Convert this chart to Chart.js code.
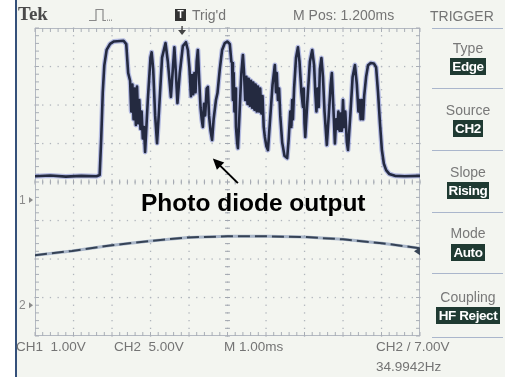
<!DOCTYPE html>
<html>
<head>
<meta charset="utf-8">
<script src="https://cdn.jsdelivr.net/npm/chart.js@4.4.1/dist/chart.umd.min.js"></script>
<style>
  html, body { margin: 0; padding: 0; background: #fff; }
  #wrap { position: relative; width: 505px; height: 377px; background: #f3f5f0; overflow: hidden; }
  #scope { position: absolute; left: 0; top: 0; }
  .t { position: absolute; font-family: "Liberation Sans", Arial, sans-serif; color: #747474; white-space: nowrap; line-height: 1; font-size: 14px; }
  .menu { position: absolute; left: 430px; width: 76px; text-align: center; font-family: "Liberation Sans", Arial, sans-serif; color: #787878; font-size: 14px; line-height: 1; }
  .box { display: inline-block; background: #1f3a32; color: #fff; font-weight: bold; font-size: 13.5px; padding: 2px 2px 1px 2px; letter-spacing: -0.4px; }
  .sep { position: absolute; left: 432px; width: 71px; height: 1px; background: #aab6cc; }
</style>
</head>
<body>
<div id="wrap">
  <div style="position:absolute;left:0;top:0;width:15px;height:377px;background:#fff"></div>
  <div style="position:absolute;left:15px;top:0;width:2px;height:377px;background:#34507a"></div>
  <canvas id="scope" width="505" height="377"></canvas>

  <div class="t" style="left:18px;top:4px;font-family:'Liberation Serif','DejaVu Serif',serif;font-weight:bold;font-size:19px;color:#4a4a4a">Tek</div>
  <div class="t" style="left:175px;top:9px;width:11px;height:12px;background:#333;color:#fff;font-weight:bold;font-size:10px;text-align:center;line-height:12px">T</div>
  <div class="t" style="left:192px;top:8px">Trig'd</div>
  <div class="t" style="left:293px;top:8px">M Pos: 1.200ms</div>
  <div class="t" style="left:430px;top:9px">TRIGGER</div>
  <div class="sep" style="top:28px"></div>

  <div class="menu" style="top:41px">Type</div>
  <div class="menu" style="top:58px"><span class="box">Edge</span></div>
  <div class="sep" style="top:88px"></div>
  <div class="menu" style="top:103px">Source</div>
  <div class="menu" style="top:120px"><span class="box">CH2</span></div>
  <div class="sep" style="top:150px"></div>
  <div class="menu" style="top:165px">Slope</div>
  <div class="menu" style="top:182px"><span class="box">Rising</span></div>
  <div class="sep" style="top:212px"></div>
  <div class="menu" style="top:226px">Mode</div>
  <div class="menu" style="top:244px"><span class="box">Auto</span></div>
  <div class="sep" style="top:273px"></div>
  <div class="menu" style="top:290px">Coupling</div>
  <div class="menu" style="top:307px"><span class="box" style="padding:2px 3px 1px 3px">HF Reject</span></div>
  <div class="sep" style="top:337px"></div>

  <div class="t" style="left:19px;top:194px;font-size:12px;color:#8a8a8a">1</div>
  <div class="t" style="left:19px;top:299px;font-size:12px;color:#8a8a8a">2</div>

  <div class="t" style="left:16px;top:340px;font-size:13.5px">CH1&nbsp; 1.00V</div>
  <div class="t" style="left:114px;top:340px;font-size:13.5px">CH2&nbsp; 5.00V</div>
  <div class="t" style="left:224px;top:340px;font-size:13.5px">M 1.00ms</div>
  <div class="t" style="left:376px;top:340px;font-size:13.5px">CH2 / 7.00V</div>
  <div class="t" style="left:376px;top:360px;font-size:13.5px">34.9942Hz</div>

  <div class="t" style="left:141px;top:191px;font-weight:bold;font-size:24.5px;color:#000">Photo diode output</div>
</div>

<script>
// CH1 - photo diode output (ms, volts)
const ch1Ms = [
  0.00, 0.40, 0.80, 1.20, 1.60, 1.68, 1.72, 1.76, 1.80, 1.86, 1.95, 2.05, 2.30, 2.37, 2.42,
  2.47, 2.50, 2.53, 2.56, 2.59, 2.62, 2.65, 2.68, 2.71, 2.74, 2.77, 2.80, 2.83, 2.86,
  2.93, 3.00, 3.03, 3.07, 3.12, 3.17, 3.22, 3.30, 3.39, 3.45, 3.53, 3.58, 3.62, 3.66,
  3.70, 3.76, 3.84, 3.92, 3.97, 4.01,
  4.05, 4.08, 4.11, 4.14, 4.17, 4.20, 4.23, 4.27, 4.30, 4.33, 4.36, 4.39, 4.42, 4.46,
  4.49, 4.52, 4.56, 4.60, 4.64, 4.70, 4.74, 4.80, 4.86, 4.93, 5.00, 5.06, 5.10,
  5.12, 5.14, 5.16, 5.18, 5.20, 5.22, 5.25, 5.27, 5.31, 5.36, 5.40, 5.43,
  5.46, 5.49, 5.52, 5.55, 5.58, 5.61, 5.64, 5.67, 5.70, 5.73, 5.76, 5.79, 5.82, 5.85,
  5.88, 5.91, 5.94, 5.97, 6.01, 6.05, 6.10, 6.17, 6.23, 6.26, 6.28, 6.31, 6.34, 6.37,
  6.42, 6.48, 6.55, 6.59, 6.63, 6.66, 6.68, 6.70, 6.73, 6.78, 6.83, 6.87, 6.92,
  6.96, 6.98, 7.00, 7.02, 7.07, 7.14, 7.20, 7.25, 7.28, 7.31, 7.34, 7.37, 7.40, 7.44,
  7.48, 7.52, 7.58, 7.63, 7.68, 7.71, 7.75, 7.79,
  7.82, 7.85, 7.88, 7.91, 7.94, 7.97, 8.00, 8.03, 8.06, 8.10, 8.13, 8.19, 8.25, 8.31,
  8.36, 8.40, 8.43, 8.46, 8.49, 8.52, 8.55, 8.60, 8.65, 8.72, 8.80, 8.86, 8.91, 8.96,
  9.01, 9.06, 9.12, 9.20, 9.35, 9.60, 10.00
];
const ch1Volts = [
  0.62, 0.64, 0.61, 0.63, 0.62, 0.65, 1.60, 2.80, 3.50, 3.90, 4.06, 4.12, 4.14, 4.05, 3.30,
  3.10, 2.30, 3.00, 2.10, 2.90, 1.95, 2.95, 2.00, 2.60, 1.85, 2.30, 1.60, 1.90, 1.25,
  2.60, 3.70, 3.84, 3.40, 2.20, 1.48, 2.30, 3.70, 4.08, 3.60, 2.68, 3.40, 3.97, 3.30,
  2.52, 3.30, 4.00, 4.10, 3.90, 3.45,
  2.70, 3.25, 2.75, 3.30, 2.80, 3.60, 3.90, 3.00, 2.40, 2.10, 1.90, 2.50, 2.20, 2.90,
  2.94, 2.20, 1.80, 1.56, 2.10, 2.60, 2.78, 3.40, 3.90, 4.08, 4.12, 4.05, 3.60,
  3.56, 2.60, 3.30, 2.30, 2.90, 1.90, 1.50, 1.35, 2.20, 3.30, 3.77, 3.30,
  2.60, 3.20, 2.50, 3.15, 2.45, 3.10, 2.40, 3.05, 2.35, 3.00, 2.30, 2.95, 2.30, 2.90,
  2.25, 2.70, 1.90, 1.64, 1.40, 1.30, 2.00, 3.00, 3.51, 2.80, 3.30, 2.60, 2.90, 2.20,
  1.50, 1.15, 1.09, 1.60, 2.30, 1.90, 2.60, 2.10, 2.90, 3.70, 3.97, 3.60, 2.80,
  2.42, 2.90, 2.00, 1.64, 2.50, 3.60, 3.90, 3.50, 2.80, 2.30, 2.90, 2.42, 3.40, 3.69,
  3.20, 2.30, 1.43, 2.20, 3.00, 3.30, 2.40, 1.47,
  2.10, 1.85, 2.30, 1.80, 2.25, 1.80, 2.60, 1.90, 2.30, 1.50, 1.30, 2.20, 3.20, 3.51,
  3.00, 2.30, 2.60, 2.10, 2.60, 2.10, 2.70, 3.20, 3.50, 3.56, 3.55, 3.45, 2.80, 2.00,
  1.30, 0.95, 0.78, 0.68, 0.63, 0.62, 0.63
];

// CH2 - slow sweep (ms, volts)
const ch2Ms = [0, 0.96, 1.95, 2.99, 3.97, 5.01, 6.03, 7.01, 8.00, 9.01, 10.00];
const ch2Volts = [6.5, 7.05, 7.75, 8.35, 8.8, 8.95, 8.95, 8.85, 8.55, 8.05, 7.4];

// scope settings
const CH1_V_PER_DIV = 1.0;
const CH2_V_PER_DIV = 5.0;
const CH1_GROUND_DIV = -0.47;   // ground marker below screen centre
const CH2_GROUND_DIV = -3.2;
const TRIG_POS_MS = 3.82;
const TRIG_LEVEL_V = 7.0;
const NOTE_ARROW = { fromMs: 5.27, fromV: 0.44, toMs: 4.62, toV: 1.08 };

const ch1Points = ch1Ms.map((t, i) => ({ x: t, y: ch1Volts[i] }));
const ch2Points = ch2Ms.map((t, i) => ({ x: t, y: ch2Volts[i] }));

const scopeDeco = {
    id: 'scopeDeco',
    beforeDatasetsDraw(chart) {
        const { ctx, chartArea: a, scales } = chart;
        const dx = (a.right - a.left) / 10;
        const dy = (a.bottom - a.top) / 8;
        ctx.save();
        ctx.fillStyle = '#b0b5bc';
        // dotted graticule
        for (let i = 1; i < 10; i++) {
            const px = scales.x.getPixelForValue(i);
            for (let j = 0; j <= 40; j++) {
                ctx.fillRect(px - 0.6, a.top + j * dy / 5 - 0.6, 1.3, 1.3);
            }
        }
        for (let k = 1; k < 8; k++) {
            const py = a.top + k * dy;
            for (let j = 0; j <= 50; j++) {
                ctx.fillRect(a.left + j * dx / 5 - 0.6, py - 0.6, 1.3, 1.3);
            }
        }
        // centre lines with minor ticks
        const cx = scales.x.getPixelForValue(5);
        const cy = a.top + 4 * dy;
        ctx.fillStyle = '#a2a7b0';
        for (let j = 0; j <= 40; j++) {
            ctx.fillRect(cx - 2.5, a.top + j * dy / 5 - 0.5, 5, 1);
        }
        for (let j = 0; j <= 50; j++) {
            ctx.fillRect(a.left + j * dx / 5 - 0.5, cy - 2.5, 1, 5);
        }
        // frame ruler
        ctx.strokeStyle = '#b4b9c2';
        ctx.lineWidth = 1;
        ctx.strokeRect(a.left + 0.5, a.top + 0.5, a.right - a.left - 1, a.bottom - a.top - 1);
        ctx.fillStyle = '#a9aeb6';
        for (let j = 0; j <= 50; j++) {
            const px = a.left + j * dx / 5;
            ctx.fillRect(px - 0.5, a.top, 1, 4);
            ctx.fillRect(px - 0.5, a.bottom - 4, 1, 4);
        }
        for (let j = 0; j <= 40; j++) {
            const py = a.top + j * dy / 5;
            ctx.fillRect(a.left, py - 0.5, 4, 1);
            ctx.fillRect(a.right - 4, py - 0.5, 4, 1);
        }
        // acquisition icon in header
        ctx.strokeStyle = '#8a8a8a';
        ctx.lineWidth = 1.2;
        ctx.beginPath();
        ctx.moveTo(89, 20.5); ctx.lineTo(96, 20.5); ctx.lineTo(96, 9.5);
        ctx.lineTo(103, 9.5); ctx.lineTo(103, 20.5); ctx.lineTo(106, 20.5);
        ctx.stroke();
        ctx.fillStyle = '#9a9a9a';
        for (let p = 107; p < 113; p += 2) ctx.fillRect(p, 19.5, 1, 1.5);
        ctx.restore();
    },
    afterDatasetsDraw(chart) {
        const { ctx, chartArea: a, scales } = chart;
        ctx.save();
        // trigger position arrow
        const tx = scales.x.getPixelForValue(TRIG_POS_MS);
        ctx.fillStyle = '#444';
        ctx.fillRect(tx - 0.7, a.top - 2, 1.4, 5);
        ctx.beginPath();
        ctx.moveTo(tx - 4, a.top + 2); ctx.lineTo(tx + 4, a.top + 2); ctx.lineTo(tx, a.top + 7);
        ctx.closePath(); ctx.fill();
        // trigger level marker
        const ly = scales.y2.getPixelForValue(TRIG_LEVEL_V);
        ctx.fillStyle = '#3a4658';
        ctx.beginPath();
        ctx.moveTo(a.right - 6, ly); ctx.lineTo(a.right, ly - 4); ctx.lineTo(a.right, ly + 4);
        ctx.closePath(); ctx.fill();
        // ground markers
        ctx.fillStyle = '#8a8a8a';
        [scales.y1.getPixelForValue(0), scales.y2.getPixelForValue(0)].forEach(gy => {
            ctx.beginPath();
            ctx.moveTo(a.left - 2, gy); ctx.lineTo(a.left - 6, gy - 3); ctx.lineTo(a.left - 6, gy + 3);
            ctx.closePath(); ctx.fill();
        });
        // annotation arrow
        const x0 = scales.x.getPixelForValue(NOTE_ARROW.fromMs);
        const y0 = scales.y1.getPixelForValue(NOTE_ARROW.fromV);
        const x1 = scales.x.getPixelForValue(NOTE_ARROW.toMs);
        const y1 = scales.y1.getPixelForValue(NOTE_ARROW.toV);
        const ang = Math.atan2(y1 - y0, x1 - x0);
        ctx.strokeStyle = '#000';
        ctx.fillStyle = '#000';
        ctx.lineWidth = 2;
        ctx.beginPath();
        ctx.moveTo(x0, y0);
        ctx.lineTo(x1 - 8 * Math.cos(ang), y1 - 8 * Math.sin(ang));
        ctx.stroke();
        ctx.beginPath();
        ctx.moveTo(x1, y1);
        ctx.lineTo(x1 - 12 * Math.cos(ang - 0.45), y1 - 12 * Math.sin(ang - 0.45));
        ctx.lineTo(x1 - 12 * Math.cos(ang + 0.45), y1 - 12 * Math.sin(ang + 0.45));
        ctx.closePath(); ctx.fill();
        ctx.restore();
    }
};

const y1Max = (4 - CH1_GROUND_DIV) * CH1_V_PER_DIV;
const y2Max = (4 - CH2_GROUND_DIV) * CH2_V_PER_DIV;

const traceLine = { borderJoinStyle: 'round', borderCapStyle: 'round' };

new Chart(document.getElementById('scope').getContext('2d'), {
    type: 'line',
    data: {
        datasets: [
            { label: 'CH1 glow', data: ch1Points, yAxisID: 'y1', borderColor: 'rgba(128, 138, 214, 0.55)', borderWidth: 5, order: 3, ...traceLine },
            { label: 'CH1', data: ch1Points, yAxisID: 'y1', borderColor: '#242a40', borderWidth: 2.6, order: 1, ...traceLine },
            { label: 'CH2 glow', data: ch2Points, yAxisID: 'y2', borderColor: 'rgba(120, 140, 175, 0.6)', borderWidth: 3, order: 3, ...traceLine },
            { label: 'CH2', data: ch2Points, yAxisID: 'y2', borderColor: '#354255', borderWidth: 2, borderDash: [12, 5], order: 1 }
        ]
    },
    options: {
        responsive: false,
        animation: false,
        elements: { point: { radius: 0 }, line: { tension: 0 } },
        layout: { padding: { left: 35, right: 85, top: 28, bottom: 41 } },
        plugins: { legend: { display: false }, tooltip: { enabled: false } },
        scales: {
            x: { type: 'linear', min: 0, max: 10, display: false },
            y1: { type: 'linear', min: y1Max - 8 * CH1_V_PER_DIV, max: y1Max, display: false },
            y2: { type: 'linear', min: y2Max - 8 * CH2_V_PER_DIV, max: y2Max, display: false }
        }
    },
    plugins: [scopeDeco]
});
</script>
</body>
</html>
